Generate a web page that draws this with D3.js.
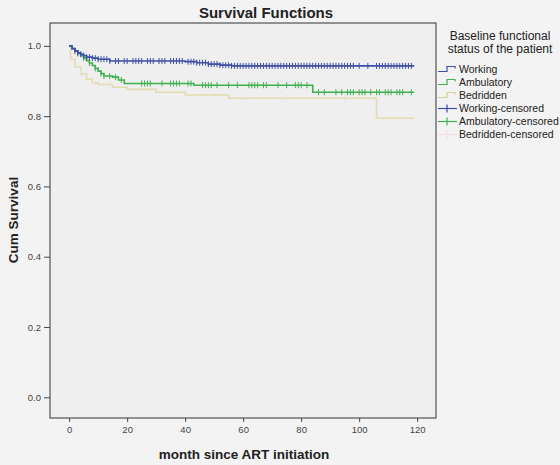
<!DOCTYPE html>
<html><head><meta charset="utf-8">
<script src="https://cdn.jsdelivr.net/npm/d3@7"></script>
<style>
html,body{margin:0;padding:0;background:#f3f3f3;}
svg{display:block;font-family:"Liberation Sans",Arial,sans-serif;}
</style></head>
<body>
<svg id="c" width="560" height="465"></svg>
<script>
const title = "Survival Functions";
const xLabel = "month since ART initiation";
const yLabel = "Cum Survival";
const xTicks = [0, 20, 40, 60, 80, 100, 120];
const yTicks = [0.0, 0.2, 0.4, 0.6, 0.8, 1.0];
const legendTitle = ["Baseline functional", "status of the patient"];
const groups = ["Working", "Ambulatory", "Bedridden"];

const workingTimes = [0, 1, 2, 3, 4, 5, 6, 8, 10, 14, 40, 44, 48, 52, 56, 119];
const workingSurv  = [1.0, 0.992, 0.985, 0.98, 0.976, 0.972, 0.968, 0.965, 0.962, 0.957, 0.955, 0.952, 0.948, 0.945, 0.943, 0.943];
const ambulatoryTimes = [0, 1, 2, 3, 4, 5, 6, 7, 8, 9, 10, 11, 12, 15, 17, 19, 43, 84, 119];
const ambulatorySurv  = [1.0, 0.992, 0.985, 0.978, 0.972, 0.965, 0.958, 0.951, 0.944, 0.936, 0.928, 0.921, 0.914, 0.911, 0.903, 0.893, 0.888, 0.868, 0.868];
const bedriddenTimes = [0, 0.5, 2, 4, 6, 8, 10, 15, 20, 30, 40, 55, 106, 119];
const bedriddenSurv  = [1.0, 0.962, 0.94, 0.92, 0.905, 0.895, 0.89, 0.882, 0.876, 0.868, 0.86, 0.851, 0.794, 0.794];

const workingCensored = [2,3,4,5,6,7,8,9,10,11,12,13,14,16,17,19,20,22,23,24,25,27,28,29,31,32,33,35,36,37,38,39,41,42,43,44,45,46,47,48,49,50,51,52,53,54,55,56,57,58,59,60,61,62,63,64,65,66,67,68,69,70,71,72,73,74,75,76,77,78,79,80,81,82,83,84,85,86,87,88,89,90,91,92,93,94,95,96,97,98,100,103,106,107,108,109,110,111,112,113,114,115,116,117,118];
const ambulatoryCensored = [3,5,7,9,11,12,14,16,18,25,26,27,28,32,35,36,37,38,41,42,46,47,48,49,51,55,58,62,63,64,65,67,68,72,75,78,79,80,82,86,88,92,94,96,97,98,100,101,102,104,106,107,109,110,111,113,114,115,118];
const bedriddenCensored = [1, 4, 9, 14, 60, 75, 95];

const lineColors = ["#3d4ea6", "#3fb04e", "#e2dcae"];
const censorColors = ["#3d4ea6", "#3fb04e", "#f1dde6"];

const svg = d3.select("#c");
const m = {l: 50, r: 436, t: 23, b: 418};
const x = d3.scaleLinear().domain([-6.6, 126.5]).range([m.l, m.r]);
const y = d3.scaleLinear().domain([-0.059, 1.065]).range([m.b, m.t]);

svg.append("rect").attr("x", m.l).attr("y", m.t).attr("width", m.r - m.l).attr("height", m.b - m.t).attr("fill", "#efefef");

const series = [
  {t: workingTimes, s: workingSurv, c: workingCensored},
  {t: ambulatoryTimes, s: ambulatorySurv, c: ambulatoryCensored},
  {t: bedriddenTimes, s: bedriddenSurv, c: bedriddenCensored}
];

function survAt(sr, t) {
  let v = sr.s[0];
  for (let i = 0; i < sr.t.length; i++) { if (sr.t[i] <= t) v = sr.s[i]; }
  return v;
}

const line = d3.line().x(d => x(d[0])).y(d => y(d[1])).curve(d3.curveStepAfter);
const order = [2, 1, 0];
order.forEach(i => {
  const sr = series[i];
  const pts = sr.t.map((t, k) => [t, sr.s[k]]);
  svg.append("path").attr("d", line(pts)).attr("fill", "none")
    .attr("stroke", lineColors[i]).attr("stroke-width", 1.6);
  const g = svg.append("g").attr("stroke", censorColors[i]).attr("stroke-width", 1);
  sr.c.forEach(t => {
    const yy = y(survAt(sr, t));
    g.append("line").attr("x1", x(t)).attr("x2", x(t)).attr("y1", yy - 3).attr("y2", yy + 3);
  });
});

// frame
svg.append("rect").attr("x", m.l).attr("y", m.t).attr("width", m.r - m.l).attr("height", m.b - m.t)
  .attr("fill", "none").attr("stroke", "#333").attr("stroke-width", 1);

// axes
const xa = svg.append("g").attr("transform", `translate(0,${m.b})`)
  .call(d3.axisBottom(x).tickValues(xTicks).tickFormat(d3.format("d")).tickSize(4).tickPadding(4));
const ya = svg.append("g").attr("transform", `translate(${m.l},0)`)
  .call(d3.axisLeft(y).tickValues(yTicks).tickFormat(d3.format(".1f")).tickSize(6).tickPadding(3));
[xa, ya].forEach(a => {
  a.select(".domain").remove();
  a.selectAll("line").attr("stroke", "#444");
  a.selectAll("text").attr("fill", "#444").style("font-size", "9.5px").style("font-family", "Liberation Sans, Arial, sans-serif");
});

svg.append("text").attr("x", 266).attr("y", 18).attr("text-anchor", "middle")
  .style("font-size", "15px").style("font-weight", "bold").attr("fill", "#222").text(title);
svg.append("text").attr("x", 244).attr("y", 459).attr("text-anchor", "middle")
  .style("font-size", "13.5px").style("font-weight", "bold").attr("fill", "#222").text(xLabel);
svg.append("text").attr("transform", "translate(18,220) rotate(-90)").attr("text-anchor", "middle")
  .style("font-size", "13.5px").style("font-weight", "bold").attr("fill", "#222").text(yLabel);

// legend
const lg = svg.append("g");
legendTitle.forEach((t, i) => {
  lg.append("text").attr("x", 500).attr("y", 40 + i * 13).attr("text-anchor", "middle")
    .style("font-size", "12px").attr("fill", "#222").text(t);
});
const items = [];
groups.forEach((g, i) => items.push({label: g, kind: "step", i}));
groups.forEach((g, i) => items.push({label: g + "-censored", kind: "cens", i}));
items.forEach((it, k) => {
  const by = 73 + k * 13;
  const cy = by - 3.5;
  if (it.kind === "step") {
    lg.append("path").attr("d", `M438,${cy + 2}H447V${cy - 3}H455V${cy - 1}`)
      .attr("fill", "none").attr("stroke", it.i === 2 ? "#d6cf98" : lineColors[it.i]).attr("stroke-width", 1.2);
  } else {
    lg.append("line").attr("x1", 438).attr("x2", 457).attr("y1", cy).attr("y2", cy)
      .attr("stroke", censorColors[it.i]).attr("stroke-width", 1.2);
    lg.append("line").attr("x1", 447).attr("x2", 447).attr("y1", cy - 4).attr("y2", cy + 4)
      .attr("stroke", censorColors[it.i]).attr("stroke-width", 1.2);
  }
  lg.append("text").attr("x", 459).attr("y", by).style("font-size", "10.5px").attr("fill", "#222").text(it.label);
});
</script>
</body></html>
